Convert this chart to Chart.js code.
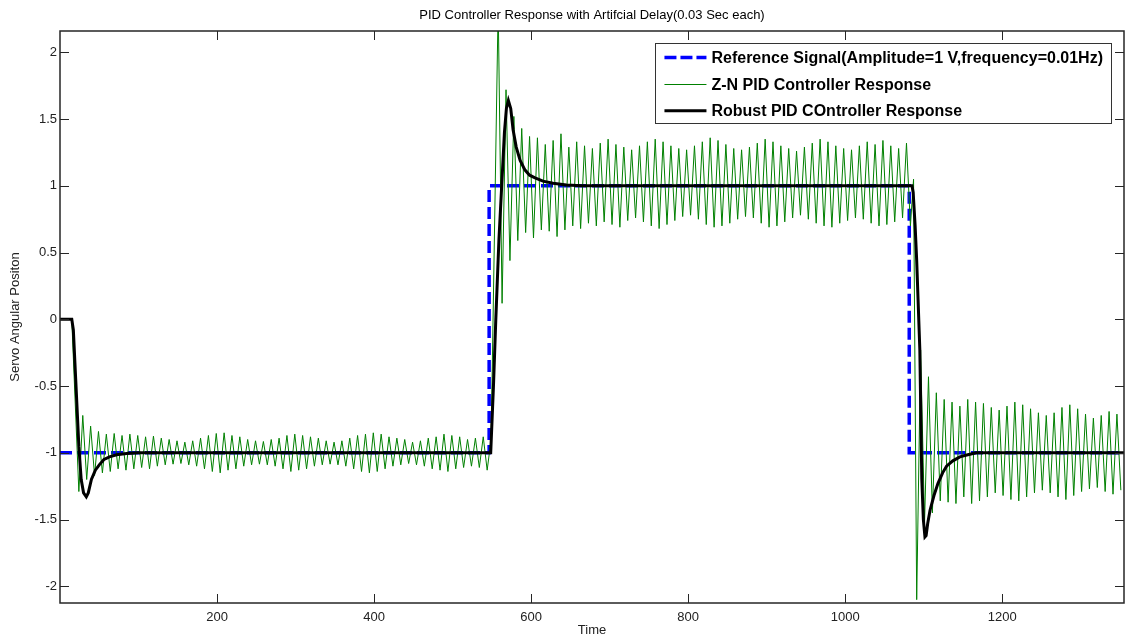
<!DOCTYPE html>
<html>
<head>
<meta charset="utf-8">
<script src="https://cdn.jsdelivr.net/npm/chart.js@4.4.1/dist/chart.umd.min.js"></script>
<style>
  html, body { margin: 0; padding: 0; background: #fff; }
  #wrap { width: 1125px; height: 638px; }
</style>
</head>
<body>
<div id="wrap"><canvas id="pidChart" width="1125" height="638"></canvas></div>
<script>
// axis ticks
const xTicks = [200, 400, 600, 800, 1000, 1200];
const yTicks = [-2, -1.5, -1, -0.5, 0, 0.5, 1, 1.5, 2];

// reference square wave
const refTime  = [0, 546.5, 546.5, 1081.5, 1081.5, 1355];
const refValue = [-1, -1, 1, 1, -1, -1];

// robust PID response
const robustTime  = [0, 15, 17, 20, 24, 27, 30, 33.5, 36, 40, 45, 50, 56, 63, 72, 85, 100,
                     548.5, 552, 555, 559, 562.5, 566, 568.5, 571, 574, 577, 581, 586, 592, 598, 605, 615, 628, 645, 665,
                     1085, 1086.5, 1089, 1091, 1095, 1097.5, 1099.5, 1101.5, 1103, 1105, 1108, 1113, 1118, 1124, 1129, 1137, 1146, 1156, 1167, 1355];
const robustValue = [0, 0, -0.08, -0.45, -0.95, -1.2, -1.3, -1.33, -1.3, -1.2, -1.13, -1.09, -1.05, -1.03, -1.015, -1.005, -1,
                     -1, -0.5, 0, 0.6, 1.0, 1.4, 1.58, 1.64, 1.58, 1.42, 1.29, 1.19, 1.12, 1.08, 1.06, 1.035, 1.02, 1.007, 1.0,
                     1.0, 0.95, 0.7, 0.44, -0.23, -1.2, -1.5, -1.63, -1.62, -1.53, -1.43, -1.32, -1.23, -1.15, -1.1, -1.06, -1.03, -1.015, -1.0, -1.0];

// Z-N PID response: lead-in and transition points
const znLeadTime  = [0, 15];
const znLeadValue = [0, 0];
const znRiseTime  = [549];
const znRiseValue = [-0.9];
const znFallTime  = [1087];
const znFallValue = [1.05];
const znHalfPeriod = 5;

// Z-N extremes (alternating trough/peak)
const znSeg1Start = 24;
const znSeg1 = [
  -1.29, -0.72, -1.20, -0.80, -1.17, -0.84, -1.15, -0.86, -1.14, -0.855,
  -1.12, -0.87, -1.13, -0.86, -1.12, -0.87, -1.11, -0.88, -1.12, -0.875,
  -1.10, -0.89, -1.09, -0.90, -1.085, -0.91, -1.08, -0.92, -1.09, -0.91,
  -1.10, -0.89, -1.12, -0.87, -1.14, -0.855, -1.15, -0.85, -1.13, -0.87,
  -1.12, -0.88, -1.10, -0.90, -1.09, -0.91, -1.085, -0.915, -1.09, -0.90,
  -1.10, -0.89, -1.12, -0.87, -1.14, -0.86, -1.13, -0.87, -1.12, -0.88,
  -1.10, -0.89, -1.09, -0.91, -1.085, -0.92, -1.09, -0.91, -1.10, -0.89,
  -1.12, -0.87, -1.14, -0.86, -1.15, -0.85, -1.14, -0.86, -1.12, -0.88,
  -1.10, -0.89, -1.09, -0.90, -1.08, -0.92, -1.09, -0.91, -1.10, -0.89,
  -1.12, -0.88, -1.13, -0.86, -1.14, -0.87, -1.12, -0.88, -1.11, -0.90,
  -1.10, -0.89, -1.11, -0.88, -1.13
];

// alternating peak/trough
const znSeg2Start = 558;
const znSeg2 = [
  2.35, 0.12, 1.72, 0.44, 1.52, 0.59, 1.43, 0.65, 1.37, 0.61,
  1.36, 0.67, 1.31, 0.66, 1.34, 0.62, 1.39, 0.67, 1.29, 0.70,
  1.33, 0.68, 1.30, 0.72, 1.28, 0.70, 1.32, 0.73, 1.35, 0.71,
  1.31, 0.69, 1.29, 0.74, 1.27, 0.76, 1.30, 0.73, 1.33, 0.70,
  1.35, 0.68, 1.33, 0.71, 1.30, 0.74, 1.28, 0.77, 1.27, 0.78,
  1.30, 0.75, 1.33, 0.71, 1.36, 0.69, 1.34, 0.70, 1.31, 0.72,
  1.28, 0.75, 1.27, 0.77, 1.29, 0.76, 1.32, 0.72, 1.35, 0.69,
  1.33, 0.70, 1.30, 0.73, 1.28, 0.76, 1.26, 0.78, 1.29, 0.75,
  1.32, 0.72, 1.35, 0.70, 1.33, 0.69, 1.30, 0.72, 1.28, 0.74,
  1.27, 0.76, 1.30, 0.75, 1.33, 0.72, 1.31, 0.70, 1.34, 0.71,
  1.30, 0.73, 1.28, 0.76, 1.32, 0.70
];

// alternating trough/peak
const znSeg3Start = 1091;
const znSeg3 = [
  -2.10, -0.23, -1.52, -0.43, -1.45, -0.55, -1.36, -0.60, -1.37, -0.62,
  -1.38, -0.65, -1.33, -0.60, -1.38, -0.62, -1.36, -0.63, -1.33, -0.66,
  -1.30, -0.68, -1.32, -0.65, -1.35, -0.62, -1.36, -0.64, -1.33, -0.67,
  -1.30, -0.70, -1.28, -0.72, -1.30, -0.70, -1.33, -0.66, -1.35, -0.64,
  -1.32, -0.67, -1.29, -0.71, -1.27, -0.74, -1.26, -0.72, -1.29, -0.69,
  -1.31, -0.71, -1.28
];

const FONT = "'Liberation Sans', Arial, Helvetica, sans-serif";
const TITLE = "PID Controller Response with Artifcial Delay(0.03 Sec each)";

function toPoints(times, values) {
  return times.map((t, i) => ({ x: t, y: values[i] }));
}

function segPoints(start, values) {
  return values.map((v, i) => ({ x: start + i * znHalfPeriod, y: v }));
}

const refPts = toPoints(refTime, refValue);
const robustPts = toPoints(robustTime, robustValue);
const znPts = [].concat(
  toPoints(znLeadTime, znLeadValue),
  segPoints(znSeg1Start, znSeg1),
  toPoints(znRiseTime, znRiseValue),
  segPoints(znSeg2Start, znSeg2),
  toPoints(znFallTime, znFallValue),
  segPoints(znSeg3Start, znSeg3)
);

const legendItems = [
  { text: "Reference Signal(Amplitude=1 V,frequency=0.01Hz)", color: "#0000ff", width: 3.5, dash: [12, 4] },
  { text: "Z-N PID Controller Response", color: "#008000", width: 1, dash: [] },
  { text: "Robust PID COntroller Response", color: "#000000", width: 3, dash: [] }
];

const matlabBox = {
  id: "matlabBox",
  afterDraw(chart) {
    const { ctx, chartArea, scales } = chart;
    const { left, top, right, bottom } = chartArea;
    ctx.save();

    // title centred over the axes, like MATLAB
    ctx.font = "13px " + FONT;
    ctx.fillStyle = "#000";
    ctx.textAlign = "center";
    ctx.textBaseline = "middle";
    ctx.fillText(TITLE, (left + right) / 2, 15);

    // inward ticks on all four sides
    ctx.strokeStyle = "#262626";
    ctx.lineWidth = 1;
    ctx.beginPath();
    xTicks.forEach(v => {
      const px = Math.round(scales.x.getPixelForValue(v)) + 0.5;
      ctx.moveTo(px, bottom); ctx.lineTo(px, bottom - 9);
      ctx.moveTo(px, top); ctx.lineTo(px, top + 9);
    });
    yTicks.forEach(v => {
      const py = Math.round(scales.y.getPixelForValue(v)) + 0.5;
      ctx.moveTo(left, py); ctx.lineTo(left + 9, py);
      ctx.moveTo(right, py); ctx.lineTo(right - 9, py);
    });
    ctx.stroke();

    ctx.lineWidth = 1.5;
    ctx.strokeRect(left, top, right - left, bottom - top);

    // legend box
    ctx.font = "bold 16px " + FONT;
    const maxW = Math.max(...legendItems.map(it => ctx.measureText(it.text).width));
    const boxW = 56 + maxW + 8;
    const boxH = 80;
    const bx = right - 13 - boxW;
    const by = top + 12;
    ctx.fillStyle = "#fff";
    ctx.fillRect(bx, by, boxW, boxH);
    ctx.strokeStyle = "#333";
    ctx.lineWidth = 1;
    ctx.strokeRect(Math.round(bx) + 0.5, Math.round(by) + 0.5, Math.round(boxW), boxH);

    const rows = [14.5, 41.5, 67.7];
    legendItems.forEach((it, i) => {
      const ly = by + rows[i];
      ctx.beginPath();
      ctx.setLineDash(it.dash);
      ctx.strokeStyle = it.color;
      ctx.lineWidth = it.width;
      ctx.moveTo(bx + 9, ly);
      ctx.lineTo(bx + 51, ly);
      ctx.stroke();
      ctx.setLineDash([]);
      ctx.fillStyle = "#000";
      ctx.textBaseline = "middle";
      ctx.textAlign = "left";
      ctx.fillText(it.text, bx + 56, ly + 1);
    });
    ctx.restore();
  }
};

const ctx = document.getElementById("pidChart").getContext("2d");
window.pidChart = new Chart(ctx, {
  type: "line",
  data: {
    datasets: [
      { label: legendItems[0].text, data: refPts, borderColor: "#0000ff", borderWidth: 3.5, borderDash: [12, 5], order: 3 },
      { label: legendItems[1].text, data: znPts, borderColor: "#008000", borderWidth: 1, order: 2 },
      { label: legendItems[2].text, data: robustPts, borderColor: "#000000", borderWidth: 3, order: 1 }
    ]
  },
  options: {
    responsive: false,
    animation: false,
    events: [],
    elements: { point: { radius: 0 }, line: { tension: 0, fill: false } },
    layout: { padding: { top: 31, right: 1, left: 0, bottom: 0 } },
    plugins: {
      legend: { display: false },
      tooltip: { enabled: false },
      title: { display: false }
    },
    scales: {
      x: {
        type: "linear",
        min: 0,
        max: 1355,
        grid: { display: false, drawTicks: false },
        border: { display: false },
        ticks: { color: "#222", font: { family: FONT, size: 13 }, padding: 7, maxRotation: 0, autoSkip: false, callback: v => String(v) },
        afterBuildTicks: s => { s.ticks = xTicks.map(v => ({ value: v })); },
        afterFit: s => { s.height = 35; },
        title: { display: true, text: "Time", color: "#222", font: { family: FONT, size: 13 }, padding: { top: 0, bottom: 0 } }
      },
      y: {
        type: "linear",
        min: -2.125,
        max: 2.16,
        grid: { display: false, drawTicks: false },
        border: { display: false },
        ticks: { color: "#222", font: { family: FONT, size: 13 }, padding: 3, autoSkip: false, callback: v => String(v) },
        afterBuildTicks: s => { s.ticks = yTicks.map(v => ({ value: v })); },
        afterFit: s => { s.width = 60; },
        title: { display: true, text: "Servo Angular Positon", color: "#222", font: { family: FONT, size: 13 }, padding: { top: 8, bottom: 0 } }
      }
    }
  },
  plugins: [matlabBox]
});
</script>
</body>
</html>
